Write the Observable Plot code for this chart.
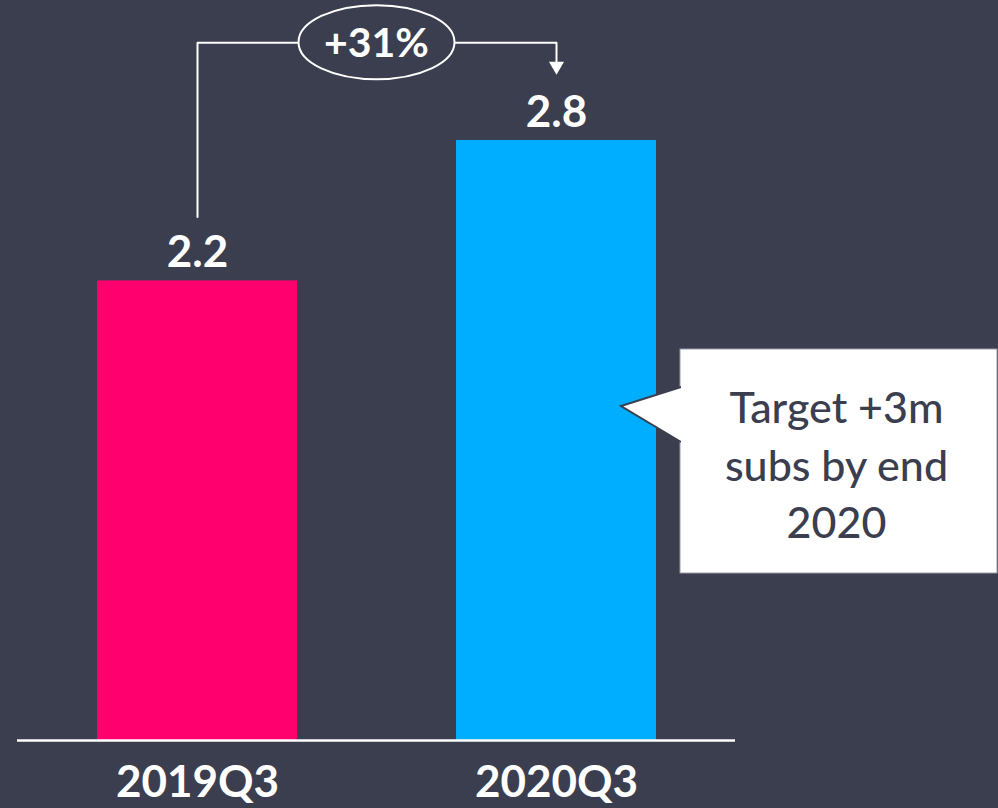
<!DOCTYPE html>
<html>
<head>
<meta charset="utf-8">
<script src="https://cdn.jsdelivr.net/npm/d3@7"></script>
<script src="https://cdn.jsdelivr.net/npm/@observablehq/plot@0.6"></script>
<style>
  html, body { margin: 0; padding: 0; background: #3b3e4e; }
  #chart { width: 998px; height: 808px; position: relative; }
</style>
</head>
<body>
<div id="chart"></div>
<script>
// ---- data ----
const categories = ["2019Q3", "2020Q3"];
const values = [2.16, 2.82];               // subscribers (m), shown rounded to 1 decimal
const barColors = ["#ff006e", "#00aeff"];
const growthLabel = "+31%";
const bracketLevel = 3.28;                  // height of the comparison bracket
const bracketStart = 2.46;                  // where the bracket leaves the first bar
const arrowTip = 3.17;                      // arrow head (centre) above second bar
const calloutLines = ["Target +3m", "subs by end", "2020"];

const bg = "#3b3e4e";
const data = categories.map((c, i) => ({category: c, value: values[i], color: barColors[i]}));
const bracket = [
  {category: categories[0], value: bracketStart},
  {category: categories[0], value: bracketLevel},
  {category: categories[1], value: bracketLevel},
  {category: categories[1], value: arrowTip}
];

const W = 998, H = 808;
const chart = Plot.plot({
  width: W,
  height: H,
  marginLeft: 17,
  marginRight: 263,
  marginTop: 0,
  marginBottom: 68,
  style: {background: bg, color: "white", fontFamily: "Lato, 'Open Sans', sans-serif", fontSize: "44px", fontWeight: "bold"},
  x: {domain: categories, paddingInner: 0.443, paddingOuter: 0.2215, tickSize: 0, tickPadding: 25, label: null},
  y: {domain: [0, 3.478], axis: null},
  marks: [
    Plot.barY(data, {x: "category", y: "value", fill: "color"}),
    Plot.ruleY([0], {stroke: "white", strokeWidth: 2.5}),
    Plot.text(data, {x: "category", y: "value", text: d => d3.format(".1f")(d.value), fill: "white",
      fontSize: 44, fontWeight: "bold", lineAnchor: "bottom", dy: -14}),
    Plot.line(bracket, {x: "category", y: "value", stroke: "white", strokeWidth: 2}),
    Plot.dot([bracket[3]], {x: "category", y: "value", symbol: "triangle", rotate: 180, r: 5.6, fill: "white", stroke: null})
  ]
});
document.getElementById("chart").appendChild(chart);

// ---- annotations placed with the chart's scales ----
const svg = d3.select(chart);
const xs = chart.scale("x"), ys = chart.scale("y");
const bw = xs.bandwidth;
const cx = (xs.apply(categories[0]) + xs.apply(categories[1])) / 2 + bw / 2;
const cy = ys.apply(bracketLevel);
svg.append("ellipse").attr("cx", cx).attr("cy", cy).attr("rx", 78).attr("ry", 37)
  .attr("fill", bg).attr("stroke", "white").attr("stroke-width", 2);
svg.append("text").attr("x", cx).attr("y", cy + 15).attr("text-anchor", "middle")
  .attr("fill", "white").attr("font-size", 41).attr("font-weight", "bold")
  .attr("font-family", "Lato, sans-serif").text(growthLabel);

// callout box to the right of the 2020 bar
const barRight = xs.apply(categories[1]) + bw;
const bx = barRight + 24, by = 349, bwid = W - 1 - bx, bh = 224;
const tipX = barRight - 35, tipY = 406;
const g = svg.append("g");
g.append("rect").attr("x", bx).attr("y", by).attr("width", bwid).attr("height", bh)
  .attr("fill", "white").attr("stroke", "#9a9ca6").attr("stroke-width", 1);
g.append("path").attr("d", `M${bx + 1},387 L${tipX},${tipY} L${bx + 1},442`)
  .attr("fill", "white").attr("stroke", bg).attr("stroke-width", 2);
g.append("rect").attr("x", bx + 1).attr("y", 386).attr("width", 4).attr("height", 58).attr("fill", "white");
const tcx = bx + bwid / 2 - 2;
calloutLines.forEach((t, i) => {
  g.append("text").attr("x", tcx).attr("y", 423 + i * 57.5).attr("text-anchor", "middle")
    .attr("fill", bg).attr("font-size", 43).attr("font-weight", 500)
    .attr("font-family", "Lato, sans-serif").text(t);
});
</script>
</body>
</html>
